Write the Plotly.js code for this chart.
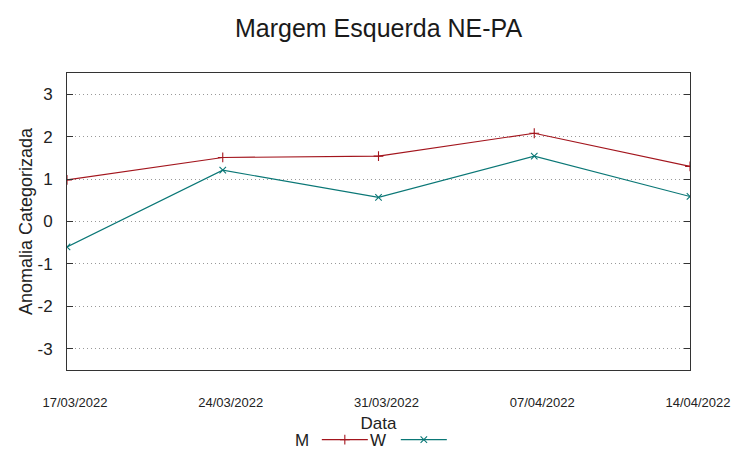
<!DOCTYPE html>
<html>
<head>
<meta charset="utf-8">
<script src="https://cdn.plot.ly/plotly-3.0.1.min.js"></script>
<style>
html,body{margin:0;padding:0;background:#fff;}
#chart{width:753px;height:459px;}
</style>
</head>
<body>
<div id="chart"></div>
<script>
var dates = ["17/03/2022", "24/03/2022", "31/03/2022", "07/04/2022", "14/04/2022"];
var seriesM = [0.98, 1.51, 1.54, 2.08, 1.30];
var seriesW = [-0.60, 1.21, 0.57, 1.54, 0.59];
var yTicks = [-3, -2, -1, 0, 1, 2, 3];
var yTickLabels = ["-3", "-2", "-1", "0", "1", "2", "3"];
var seriesNames = ["M", "W"];

var colorM = "#a3151d";
var colorW = "#0a7776";
var FONT = "Liberation Sans, Arial, sans-serif";

var xIdx = dates.map(function (d, i) { return i; });

var traces = [
  {
    x: xIdx, y: seriesM, type: "scatter", mode: "lines+markers", name: " ",
    line: {color: colorM, width: 1.1},
    marker: {symbol: "cross-thin", size: 7, color: colorM, line: {color: colorM, width: 1.1}}
  },
  {
    x: xIdx, y: seriesW, type: "scatter", mode: "lines+markers", name: " ",
    line: {color: colorW, width: 1.1},
    marker: {symbol: "x-thin", size: 6.5, color: colorW, line: {color: colorW, width: 1.1}}
  }
];

var layout = {
  width: 753, height: 459,
  margin: {l: 67, r: 63, t: 73, b: 89, autoexpand: false},
  paper_bgcolor: "#fff", plot_bgcolor: "#fff",
  font: {family: FONT, color: "#222"},
  title: {text: "Margem Esquerda NE-PA", font: {size: 25, family: FONT, color: "#1a1a1a"},
          x: 0.5, xref: "paper", xanchor: "center", y: 0.939, yanchor: "middle", yref: "container"},
  xaxis: {
    range: [0, dates.length - 1], automargin: false,
    tickmode: "array", tickvals: xIdx, ticktext: dates,
    tickfont: {size: 13, family: FONT, color: "#222"},
    ticks: "", showgrid: false, zeroline: false,
    showline: true, linecolor: "#333", linewidth: 1, mirror: true,
    ticklabelstandoff: 20, ticklabelshift: 8,
    title: {text: "Data", font: {size: 17, family: FONT, color: "#222"}, standoff: 8}
  },
  yaxis: {
    range: [-3.5, 3.5], automargin: false,
    tickmode: "array", tickvals: yTicks, ticktext: yTickLabels,
    tickfont: {size: 17, family: FONT, color: "#222"},
    ticks: "inside", ticklen: 6, tickcolor: "#333", tickwidth: 1,
    showgrid: true, gridcolor: "#999999", griddash: "1px,3px", gridwidth: 1,
    zeroline: false,
    showline: true, linecolor: "#333", linewidth: 1, mirror: "ticks",
    ticklabelstandoff: 10,
    title: {text: "Anomalia Categorizada", font: {size: 18, family: FONT, color: "#222"}, standoff: 0}
  },
  showlegend: true,
  legend: {
    orientation: "h", x: 0.401, xanchor: "left", y: -0.236, yanchor: "middle",
    entrywidth: 18, entrywidthmode: "pixels", itemwidth: 46,
    font: {size: 17, family: FONT}, bgcolor: "rgba(0,0,0,0)"
  },
  annotations: [
    {text: seriesNames[0], xref: "paper", yref: "paper", x: 0.377, y: -0.236, showarrow: false,
     xanchor: "center", yanchor: "middle", font: {size: 17, family: FONT, color: "#222"}},
    {text: seriesNames[1], xref: "paper", yref: "paper", x: 0.499, y: -0.236, showarrow: false,
     xanchor: "center", yanchor: "middle", font: {size: 17, family: FONT, color: "#222"}}
  ]
};

Plotly.newPlot("chart", traces, layout, {displayModeBar: false, staticPlot: true});
</script>
</body>
</html>
